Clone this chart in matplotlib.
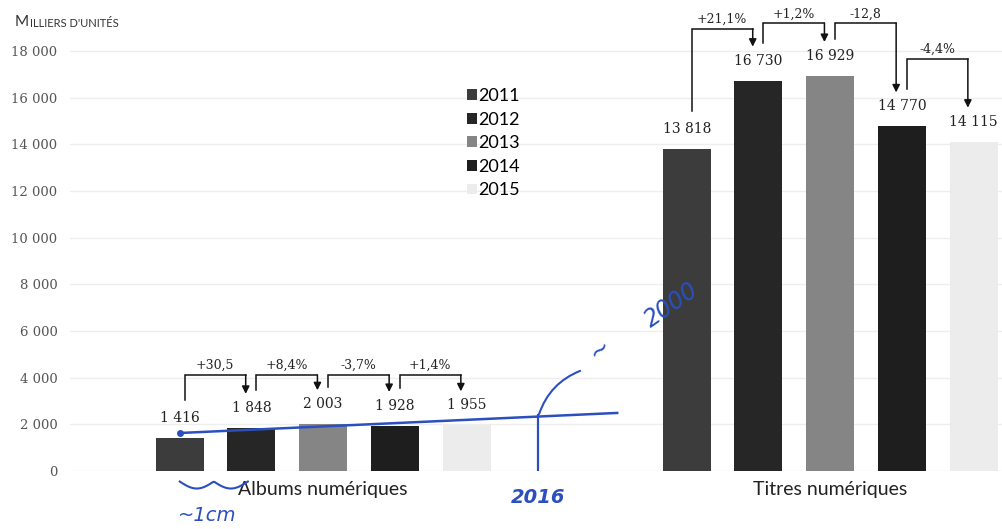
import matplotlib
matplotlib.use("Agg")
import matplotlib.pyplot as plt
import numpy as np

# data
years = ["2011", "2012", "2013", "2014", "2015"]
groups = ["Albums numériques", "Titres numériques"]
albums = [1416, 1848, 2003, 1928, 1955]
titres = [13818, 16730, 16929, 14770, 14115]
albums_var = ["+30,5", "+8,4%", "-3,7%", "+1,4%"]
titres_var = ["+21,1%", "+1,2%", "-12,8", "-4,4%"]
yticks = [0, 2000, 4000, 6000, 8000, 10000, 12000, 14000, 16000, 18000]
# blue pen notes added on the paper
trend_years = [2011, 2017.1]
trend_values = [1630, 2490]
note_year = 2016

colors = ["#3c3c3c", "#262626", "#858585", "#1e1e1e", "#ececec"]
blue = "#2b4fbf"
serif = "DejaVu Serif"
sans = "Lato"

group_x = [0, 7.07]
bracket_levels = [[4115, 4115, 4115, 4115], [18950, 19200, 19200, 17660]]

def fmt(v):
    return f"{v:,}".replace(",", " ")

fig = plt.figure(figsize=(10.03, 5.29), dpi=100)
ax = fig.add_axes([0.0698, 0.1096, 0.9302, 0.8904])

offs = np.arange(len(years)) - 2
series = [albums, titres]
for i, yr in enumerate(years):
    xs = [group_x[g] + offs[i] for g in range(2)]
    vals = [series[g][i] for g in range(2)]
    ax.bar(xs, vals, width=0.67, color=colors[i], label=yr, zorder=2)

for g, vals in enumerate(series):
    xs = group_x[g] + offs
    for x, v in zip(xs, vals):
        ax.annotate(fmt(v), (x, v), xytext=(0, 14.4), textcoords="offset points",
                    ha="center", va="center", fontsize=10, family=serif, color="#222")
    var = [albums_var, titres_var][g]
    for i in range(len(vals) - 1):
        x0 = xs[i] + 0.07
        x1 = xs[i + 1] - 0.08
        y0 = vals[i] + 1610
        y1 = vals[i + 1] + 1460
        lev = bracket_levels[g][i]
        ax.plot([x0, x0, x1], [y0, lev, lev], color="#111", lw=1.1, zorder=3,
                solid_joinstyle="miter")
        ax.annotate("", xy=(x1, y1), xytext=(x1, lev),
                    arrowprops=dict(arrowstyle="-|>", color="#111", lw=1.1,
                                    mutation_scale=11, shrinkA=0, shrinkB=0))
        ax.annotate(var[i], ((x0 + x1) / 2, lev), xytext=(0, 2), textcoords="offset points",
                    ha="center", va="bottom", fontsize=9, family=serif, color="#222")

ax.set_xlim(-3.53, 9.48)
ax.set_ylim(0, 20190)
ax.set_yticks(yticks)
ax.set_yticklabels([fmt(t) for t in yticks], family=serif, fontsize=9.5, color="#555")
ax.set_xticks(group_x)
ax.set_xticklabels(groups, family=sans, fontsize=14, color="#222")
ax.tick_params(length=0, axis="y", pad=9)
ax.tick_params(length=0, axis="x", pad=7)
for s in ax.spines.values():
    s.set_visible(False)
ax.grid(axis="y", color="#eeeeee", lw=1, zorder=0)
ax.set_axisbelow(True)

# title in small caps
t1 = fig.text(15 / 1003, 1 - 26 / 529, "M", fontsize=11, family=sans, color="#333")
ax.annotate("ILLIERS D'UNITÉS", xy=(1, 0), xycoords=t1, xytext=(0.5, 0),
            textcoords="offset points", fontsize=8, family=sans, color="#333", va="bottom")

ax.legend(loc="upper left", bbox_to_anchor=(458 / 1003, 1 - 79 / 529),
          bbox_transform=fig.transFigure, frameon=False, borderpad=0,
          handlelength=0.55, handleheight=0.55, handletextpad=0.08,
          labelspacing=0.42, prop={"family": sans, "size": 13})

# pen notes
def pos(year):
    return group_x[0] + (year - 2013)

tx = [pos(y) for y in trend_years]
ax.plot(tx, trend_values, color=blue, lw=1.8, zorder=4)
ax.plot(tx[0], trend_values[0], "o", color=blue, ms=4, zorder=4)
slope = (trend_values[1] - trend_values[0]) / (tx[1] - tx[0])
xn = pos(note_year)
yn = trend_values[0] + slope * (xn - tx[0])
ax.plot([xn, xn], [0, yn + 80], color=blue, lw=1.6, zorder=4)
ax.annotate("", xy=(xn + 0.62, yn + 2000), xytext=(xn, yn),
            arrowprops=dict(arrowstyle="-", color=blue, lw=1.5,
                            connectionstyle="arc3,rad=-0.25"))
ax.text(xn + 0.86, yn + 2900, "~", color=blue, fontsize=18, rotation=40,
        ha="center", va="center")
ax.text(xn + 1.85, 7100, "2000", color=blue, fontsize=17, rotation=35,
        ha="center", va="center", style="italic", family="DejaVu Sans")
ax.text(xn, -1150, "2016", color=blue, fontsize=14, fontweight="bold",
        ha="center", va="center", clip_on=False, style="italic")
ax.text(pos(2011) + 0.38, -1900, "~1cm", color=blue, fontsize=14,
        ha="center", va="center", clip_on=False, style="italic")
sq = np.linspace(0, 1, 60)
ax.plot(pos(2011) + sq * 0.95, -450 - 300 * np.abs(np.sin(sq * 2 * np.pi)),
        color=blue, lw=1.5, clip_on=False)

fig.savefig("out.png", dpi=100)
